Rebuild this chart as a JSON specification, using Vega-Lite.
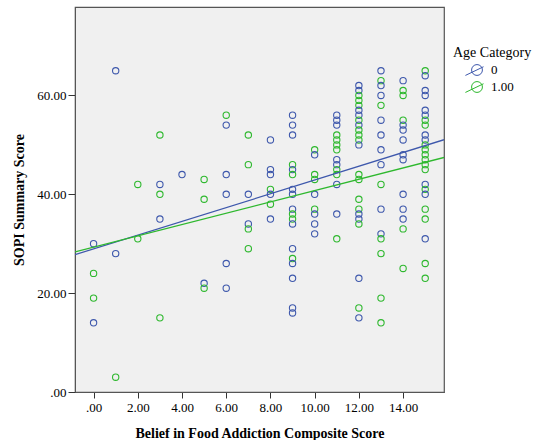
{
  "$schema": "https://vega.github.io/schema/vega-lite/v6.json",
  "width": 369,
  "height": 385,
  "autosize": "none",
  "padding": {"left": 75, "top": 7, "right": 93, "bottom": 48},
  "background": "white",
  "config": {
    "view": {"fill": "#F0F0F0", "stroke": "#555555", "strokeWidth": 1.2},
    "font": "Liberation Serif"
  },
  "data": {"values": [
    {"x":0,"y":30,"g":"0"},{"x":0,"y":24,"g":"1.00"},{"x":0,"y":19,"g":"1.00"},{"x":0,"y":14,"g":"0"},
    {"x":1,"y":65,"g":"0"},{"x":1,"y":28,"g":"0"},{"x":1,"y":3,"g":"1.00"},
    {"x":2,"y":42,"g":"1.00"},{"x":2,"y":31,"g":"1.00"},
    {"x":3,"y":52,"g":"1.00"},{"x":3,"y":42,"g":"0"},{"x":3,"y":40,"g":"1.00"},{"x":3,"y":35,"g":"0"},{"x":3,"y":15,"g":"1.00"},
    {"x":4,"y":44,"g":"0"},
    {"x":5,"y":43,"g":"1.00"},{"x":5,"y":39,"g":"1.00"},{"x":5,"y":22,"g":"0"},{"x":5,"y":21,"g":"1.00"},
    {"x":6,"y":56,"g":"1.00"},{"x":6,"y":54,"g":"0"},{"x":6,"y":44,"g":"0"},{"x":6,"y":40,"g":"0"},{"x":6,"y":26,"g":"0"},{"x":6,"y":21,"g":"0"},
    {"x":7,"y":52,"g":"1.00"},{"x":7,"y":46,"g":"1.00"},{"x":7,"y":40,"g":"0"},{"x":7,"y":34,"g":"0"},{"x":7,"y":33,"g":"1.00"},{"x":7,"y":29,"g":"1.00"},
    {"x":8,"y":51,"g":"0"},{"x":8,"y":45,"g":"0"},{"x":8,"y":44,"g":"0"},{"x":8,"y":41,"g":"1.00"},{"x":8,"y":40,"g":"0"},{"x":8,"y":38,"g":"1.00"},{"x":8,"y":35,"g":"0"},
    {"x":9,"y":56,"g":"0"},{"x":9,"y":54,"g":"0"},{"x":9,"y":52,"g":"0"},{"x":9,"y":46,"g":"1.00"},{"x":9,"y":45,"g":"0"},{"x":9,"y":44,"g":"1.00"},{"x":9,"y":41,"g":"0"},{"x":9,"y":40,"g":"0"},{"x":9,"y":37,"g":"0"},{"x":9,"y":36,"g":"1.00"},{"x":9,"y":35,"g":"1.00"},{"x":9,"y":34,"g":"0"},{"x":9,"y":29,"g":"0"},{"x":9,"y":27,"g":"1.00"},{"x":9,"y":26,"g":"0"},{"x":9,"y":23,"g":"0"},{"x":9,"y":17,"g":"0"},{"x":9,"y":16,"g":"0"},
    {"x":10,"y":49,"g":"1.00"},{"x":10,"y":48,"g":"0"},{"x":10,"y":44,"g":"1.00"},{"x":10,"y":43,"g":"1.00"},{"x":10,"y":40,"g":"0"},{"x":10,"y":37,"g":"1.00"},{"x":10,"y":36,"g":"0"},{"x":10,"y":34,"g":"0"},{"x":10,"y":32,"g":"0"},
    {"x":11,"y":56,"g":"0"},{"x":11,"y":55,"g":"0"},{"x":11,"y":54,"g":"0"},{"x":11,"y":52,"g":"1.00"},{"x":11,"y":51,"g":"1.00"},{"x":11,"y":50,"g":"1.00"},{"x":11,"y":49,"g":"1.00"},{"x":11,"y":47,"g":"0"},{"x":11,"y":46,"g":"0"},{"x":11,"y":45,"g":"1.00"},{"x":11,"y":44,"g":"1.00"},{"x":11,"y":42,"g":"0"},{"x":11,"y":36,"g":"0"},{"x":11,"y":31,"g":"1.00"},
    {"x":12,"y":62,"g":"0"},{"x":12,"y":61,"g":"0"},{"x":12,"y":60,"g":"1.00"},{"x":12,"y":59,"g":"1.00"},{"x":12,"y":58,"g":"1.00"},{"x":12,"y":57,"g":"0"},{"x":12,"y":56,"g":"0"},{"x":12,"y":55,"g":"1.00"},{"x":12,"y":54,"g":"0"},{"x":12,"y":53,"g":"1.00"},{"x":12,"y":52,"g":"1.00"},{"x":12,"y":51,"g":"1.00"},{"x":12,"y":50,"g":"0"},{"x":12,"y":44,"g":"1.00"},{"x":12,"y":43,"g":"1.00"},{"x":12,"y":39,"g":"1.00"},{"x":12,"y":37,"g":"1.00"},{"x":12,"y":36,"g":"0"},{"x":12,"y":35,"g":"0"},{"x":12,"y":34,"g":"1.00"},{"x":12,"y":23,"g":"0"},{"x":12,"y":17,"g":"1.00"},{"x":12,"y":15,"g":"0"},
    {"x":13,"y":65,"g":"0"},{"x":13,"y":63,"g":"1.00"},{"x":13,"y":62,"g":"0"},{"x":13,"y":60,"g":"0"},{"x":13,"y":58,"g":"1.00"},{"x":13,"y":55,"g":"0"},{"x":13,"y":52,"g":"0"},{"x":13,"y":49,"g":"0"},{"x":13,"y":46,"g":"0"},{"x":13,"y":42,"g":"1.00"},{"x":13,"y":37,"g":"0"},{"x":13,"y":32,"g":"0"},{"x":13,"y":31,"g":"1.00"},{"x":13,"y":28,"g":"1.00"},{"x":13,"y":19,"g":"1.00"},{"x":13,"y":14,"g":"1.00"},
    {"x":14,"y":63,"g":"0"},{"x":14,"y":61,"g":"1.00"},{"x":14,"y":60,"g":"1.00"},{"x":14,"y":55,"g":"1.00"},{"x":14,"y":54,"g":"0"},{"x":14,"y":53,"g":"0"},{"x":14,"y":51,"g":"0"},{"x":14,"y":48,"g":"0"},{"x":14,"y":47,"g":"0"},{"x":14,"y":40,"g":"0"},{"x":14,"y":37,"g":"0"},{"x":14,"y":35,"g":"0"},{"x":14,"y":33,"g":"1.00"},{"x":14,"y":25,"g":"1.00"},
    {"x":15,"y":65,"g":"1.00"},{"x":15,"y":64,"g":"0"},{"x":15,"y":61,"g":"0"},{"x":15,"y":60,"g":"0"},{"x":15,"y":57,"g":"0"},{"x":15,"y":56,"g":"0"},{"x":15,"y":55,"g":"1.00"},{"x":15,"y":54,"g":"1.00"},{"x":15,"y":52,"g":"0"},{"x":15,"y":51,"g":"0"},{"x":15,"y":50,"g":"1.00"},{"x":15,"y":49,"g":"1.00"},{"x":15,"y":48,"g":"1.00"},{"x":15,"y":47,"g":"1.00"},{"x":15,"y":46,"g":"1.00"},{"x":15,"y":45,"g":"1.00"},{"x":15,"y":42,"g":"0"},{"x":15,"y":41,"g":"1.00"},{"x":15,"y":40,"g":"0"},{"x":15,"y":37,"g":"1.00"},{"x":15,"y":35,"g":"1.00"},{"x":15,"y":31,"g":"0"},{"x":15,"y":26,"g":"1.00"},{"x":15,"y":23,"g":"1.00"}
  ]},
  "encoding": {
    "x": {
      "field": "x", "type": "quantitative",
      "scale": {"domain": [-0.84, 15.85], "nice": false, "zero": false},
      "axis": {
        "title": "Belief in Food Addiction Composite Score",
        "values": [0, 2, 4, 6, 8, 10, 12, 14],
        "labelExpr": "datum.value === 0 ? '.00' : format(datum.value, '.2f')",
        "grid": false, "domainColor": "#555555", "tickColor": "#333333", "tickSize": 6,
        "labelFontSize": 13, "labelColor": "#000000", "labelPadding": 3, "labelFont": "Liberation Serif",
        "titleFontSize": 14, "titleFontWeight": "bold", "titleColor": "#000000", "titleFont": "Liberation Serif", "titlePadding": 12
      }
    },
    "y": {
      "field": "y", "type": "quantitative",
      "scale": {"domain": [0, 77.9], "nice": false, "zero": false},
      "axis": {
        "title": "SOPI Summary Score",
        "values": [0, 20, 40, 60],
        "labelExpr": "datum.value === 0 ? '.00' : format(datum.value, '.2f')",
        "grid": false, "domainColor": "#555555", "tickColor": "#333333", "tickSize": 7,
        "labelFontSize": 13, "labelColor": "#000000", "labelPadding": 2, "labelFont": "Liberation Serif",
        "titleFontSize": 14, "titleFontWeight": "bold", "titleColor": "#000000", "titleFont": "Liberation Serif", "titlePadding": 10
      }
    },
    "color": {
      "field": "g", "type": "nominal",
      "scale": {"domain": ["0", "1.00"], "range": ["#3E58AC", "#2EB82E"]},
      "legend": {
        "title": "Age Category",
        "orient": "none", "legendX": 378, "legendY": 39,
        "titleFontSize": 14, "titleFontWeight": "normal", "titleColor": "#000000", "titleFont": "Liberation Serif",
        "labelFontSize": 13, "labelColor": "#000000", "labelFont": "Liberation Serif",
        "symbolType": "M-0.75,0A0.75,0.75,0,1,1,0.75,0A0.75,0.75,0,1,1,-0.75,0M-1.6,0.75L0.9,-0.45",
        "symbolSize": 210, "symbolStrokeWidth": 1, "symbolFillColor": "transparent",
        "symbolOffset": 16, "rowPadding": 1, "titlePadding": 2, "labelOffset": 6,
        "encode": {"symbols": {"update": {"size": {"value": 210}, "strokeWidth": {"value": 1}}}}
      }
    }
  },
  "layer": [
    {
      "mark": {"type": "point", "shape": "circle", "filled": false, "size": 40, "strokeWidth": 1.1, "opacity": 1}
    },
    {
      "transform": [{"regression": "y", "on": "x", "groupby": ["g"], "extent": [-0.84, 15.85]}],
      "mark": {"type": "line", "strokeWidth": 1.3, "clip": true}
    }
  ]
}
